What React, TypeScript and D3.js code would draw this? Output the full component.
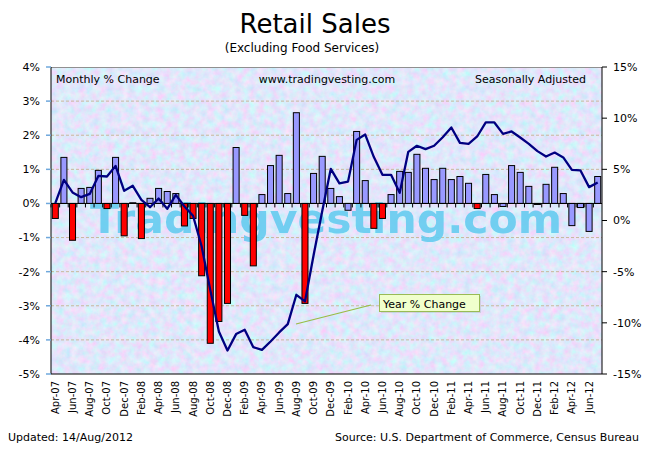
import React from 'react';
import * as d3 from 'd3';

const months = [
  "Apr-07","May-07","Jun-07","Jul-07","Aug-07","Sep-07","Oct-07","Nov-07","Dec-07",
  "Jan-08","Feb-08","Mar-08","Apr-08","May-08","Jun-08","Jul-08","Aug-08","Sep-08","Oct-08","Nov-08","Dec-08",
  "Jan-09","Feb-09","Mar-09","Apr-09","May-09","Jun-09","Jul-09","Aug-09","Sep-09","Oct-09","Nov-09","Dec-09",
  "Jan-10","Feb-10","Mar-10","Apr-10","May-10","Jun-10","Jul-10","Aug-10","Sep-10","Oct-10","Nov-10","Dec-10",
  "Jan-11","Feb-11","Mar-11","Apr-11","May-11","Jun-11","Jul-11","Aug-11","Sep-11","Oct-11","Nov-11","Dec-11",
  "Jan-12","Feb-12","Mar-12","Apr-12","May-12","Jun-12","Jul-12"
];

// Monthly % change (left axis)
const monthlyChange = [
  -0.44, 1.35, -1.08, 0.44, 0.47, 0.97, -0.15, 1.35, -0.95,
  0.02, -1.03, 0.15, 0.44, 0.35, 0.29, -0.66, -0.44, -2.12, -4.10, -3.46, -2.93,
  1.64, -0.35, -1.83, 0.26, 1.11, 1.41, 0.29, 2.66, -2.93, 0.88, 1.38, 0.44,
  0.20, -0.20, 2.11, 0.67, -0.73, -0.44, 0.26, 0.94, 0.91, 1.44, 1.03, 0.70,
  1.03, 0.70, 0.79, 0.59, -0.15, 0.85, 0.26, -0.09, 1.11, 0.91, 0.50, -0.03,
  0.56, 1.06, 0.29, -0.65, -0.12, -0.82, 0.79
];

// Year % change (right axis)
const yearChange = [
  1.7, 3.97, 2.74, 2.28, 2.6, 4.36, 4.3, 5.34, 2.9,
  3.39, 2.02, 1.3, 2.15, 1.14, 2.5, 1.37, 0.46, -2.54, -6.78, -10.85, -12.7,
  -11.1, -10.68, -12.38, -12.64, -11.82, -10.94, -10.13, -7.26, -7.9, -3.4, 0.9, 5.05,
  3.62, 3.8, 7.88, 8.4, 6.2, 4.46, 4.46, 2.7, 6.71, 7.3, 6.97, 7.3,
  8.14, 9.09, 7.59, 7.49, 8.21, 9.58, 9.58, 8.47, 8.7, 8.11, 7.49, 6.78,
  6.25, 6.64, 6.16, 4.95, 4.89, 3.26, 3.71
];

// Months whose bars are drawn in red
const redMonths = [
  "Apr-07","Jun-07","Oct-07","Dec-07","Feb-08","Jul-08","Aug-08","Sep-08","Oct-08",
  "Nov-08","Dec-08","Feb-09","Mar-09","Sep-09","May-10","Jun-10","May-11"
];

const leftTicks = [4, 3, 2, 1, 0, -1, -2, -3, -4, -5];
const rightTicks = [15, 10, 5, 0, -5, -10, -15];

const FONT = "'DejaVu Sans', Verdana, sans-serif";

export default function App() {
  const W = 650, H = 455;
  const L = 51, R = 602, T = 67, B = 374;

  const x = d3.scaleBand<string>().domain(months).range([L, R]).paddingInner(0.3).paddingOuter(0.15);
  const yL = d3.scaleLinear().domain([-5, 4]).range([B, T]);
  const yR = d3.scaleLinear().domain([-15, 15]).range([B, T]);
  const cx = (m: string) => (x(m) as number) + x.bandwidth() / 2;
  const step = x.step();

  const linePath = d3.line<number>()
    .x((_, i) => cx(months[i]))
    .y(d => yR(d))(yearChange) as string;

  const zero = yL(0);

  return (
    <svg width={W} height={H} style={{ position: 'absolute', left: 0, top: 0, background: '#fff' }}
      fontFamily={FONT}>
      <defs>
        <filter id="tex" x="0" y="0" width="100%" height="100%" filterUnits="userSpaceOnUse">
          <feTurbulence type="fractalNoise" baseFrequency="0.14" numOctaves="3" seed="7" result="n" />
          <feColorMatrix in="n" type="matrix"
            values="0.6 0 0 0 0.45
                    -0.3 0.3 0 0 0.80
                    0 0 0.1 0 0.91
                    0 0 0 0 1" />
        </filter>
        <clipPath id="plotClip">
          <rect x={L} y={T} width={R - L} height={B - T} />
        </clipPath>
      </defs>

      {/* Title */}
      <text x={315} y={33} fontSize={26} textAnchor="middle" fill="#000">Retail Sales</text>
      <text x={302} y={52} fontSize={12} textAnchor="middle" fill="#000">(Excluding Food Services)</text>

      {/* Plot background */}
      <rect x={L} y={T} width={R - L} height={B - T} fill="#bccdf4" />
      <rect x={L} y={T} width={R - L} height={B - T} filter="url(#tex)" clipPath="url(#plotClip)" />

      {/* Gridlines */}
      {leftTicks.filter(t => t !== 0 && t !== 4 && t !== -5).map(t => (
        <line key={'g' + t} x1={L} x2={R} y1={yL(t)} y2={yL(t)} stroke="#c8b89c" strokeWidth={1} strokeDasharray="3,2" />
      ))}

      {/* Watermark */}
      <text x={90} y={233} fontSize={41} fontWeight="bold" fill="#66ccf0" opacity={0.9}
        textLength={472} lengthAdjust="spacingAndGlyphs">Tradingvesting.com</text>

      {/* In-plot labels */}
      <text x={56} y={83} fontSize={11} fill="#000">Monthly % Change</text>
      <text x={327} y={83} fontSize={11} textAnchor="middle" fill="#000">www.tradingvesting.com</text>
      <text x={586} y={83} fontSize={11} textAnchor="end" fill="#000">Seasonally Adjusted</text>

      {/* Bars */}
      {months.map((m, i) => {
        const v = monthlyChange[i];
        const y0 = yL(Math.max(0, v));
        const h = Math.abs(yL(v) - zero);
        return (
          <rect key={m} x={x(m)} y={y0} width={x.bandwidth()} height={Math.max(h, 0.5)}
            fill={redMonths.includes(m) ? '#ff0000' : '#9999ff'} stroke="#000" strokeWidth={1} />
        );
      })}

      {/* Zero axis with ticks */}
      <line x1={L} x2={R} y1={zero} y2={zero} stroke="#000" strokeWidth={1} />
      {months.map((m, i) => (
        <line key={'t' + m} x1={L + i * step} x2={L + i * step} y1={zero} y2={zero + 4} stroke="#000" strokeWidth={1} />
      ))}

      {/* Year % change line */}
      <path d={linePath} fill="none" stroke="#000080" strokeWidth={2.3} strokeLinejoin="round" />

      {/* Callout */}
      <line x1={296} y1={324} x2={371} y2={305} stroke="#99bb44" strokeWidth={1.2} />
      <rect x={381} y={296} width={100} height={17} fill="#aaaaaa" opacity={0.35} />
      <rect x={379.5} y={294.5} width={100} height={17} fill="#f0ffcc" stroke="#99bb55" strokeWidth={1} />
      <text x={383} y={308} fontSize={11} fill="#000">Year % Change</text>

      {/* Plot border */}
      <line x1={L} x2={R} y1={T + 0.5} y2={T + 0.5} stroke="#909090" strokeWidth={1} />
      <line x1={L} x2={R} y1={B} y2={B} stroke="#000" strokeWidth={1} />
      <line x1={L} x2={L} y1={T} y2={B} stroke="#000" strokeWidth={1} />
      <line x1={R} x2={R} y1={T} y2={B} stroke="#000" strokeWidth={1} />

      {/* Left axis */}
      {leftTicks.map(t => (
        <g key={'l' + t}>
          <line x1={L - 5} x2={L} y1={yL(t)} y2={yL(t)} stroke="#6fa8dc" strokeWidth={1.5} />
          <text x={40} y={yL(t)} dy="0.35em" fontSize={11} textAnchor="end" fill="#000">{t + '%'}</text>
        </g>
      ))}

      {/* Right axis */}
      {rightTicks.map(t => (
        <g key={'r' + t}>
          <line x1={R} x2={R + 5} y1={yR(t)} y2={yR(t)} stroke="#000" strokeWidth={1} />
          <text x={613} y={yR(t)} dy="0.35em" fontSize={11} fill="#000">{t + '%'}</text>
        </g>
      ))}

      {/* Category labels */}
      {months.filter((_, i) => i % 2 === 0).map(m => (
        <text key={'x' + m} transform={`translate(${cx(m) + 3.5},381) rotate(-90)`}
          fontSize={10} textAnchor="end" fill="#000">{m}</text>
      ))}

      {/* Footer */}
      <text x={8} y={441} fontSize={11} fill="#000">Updated: 14/Aug/2012</text>
      <text x={639} y={441} fontSize={11} textAnchor="end" fill="#000">Source: U.S. Department of Commerce, Census Bureau</text>
    </svg>
  );
}
